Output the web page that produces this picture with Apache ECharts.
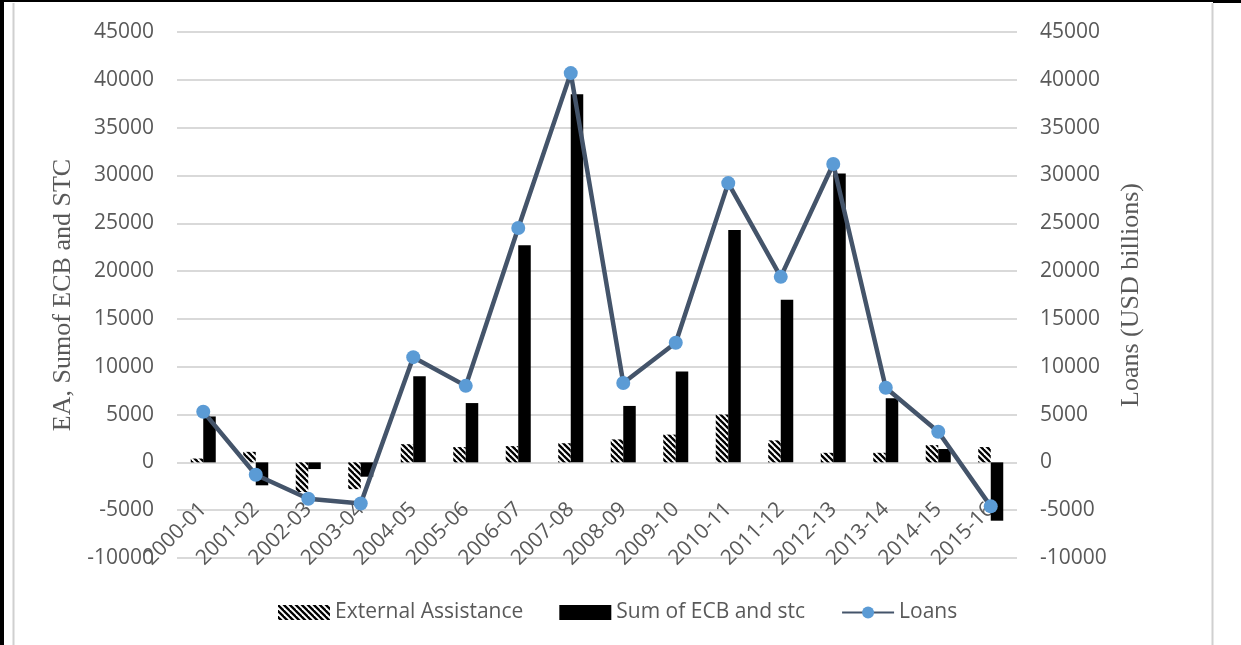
<!DOCTYPE html>
<html>
<head>
<meta charset="utf-8">
<script src="https://cdn.jsdelivr.net/npm/echarts@6/dist/echarts.min.js"></script>
<style>
  html, body { margin: 0; padding: 0; background: #fff; }
  #chart { width: 1241px; height: 645px; }
</style>
</head>
<body>
<div id="chart"></div>
<script>
// Fiscal years on the category axis
const years = ['2000-01', '2001-02', '2002-03', '2003-04', '2004-05', '2005-06', '2006-07', '2007-08',
               '2008-09', '2009-10', '2010-11', '2011-12', '2012-13', '2013-14', '2014-15', '2015-16'];

// External Assistance (left axis)
const externalAssistance = [400, 1100, -3100, -2800, 1900, 1600, 1700, 2000,
                            2400, 2900, 5000, 2300, 1000, 1000, 1800, 1600];

// Sum of ECB and short-term credit (left axis)
const ecbStc = [4800, -2400, -700, -1500, 9000, 6200, 22700, 38500,
                5900, 9500, 24300, 17000, 30200, 6700, 1400, -6100];

// Loans (right axis)
const loans = [5300, -1300, -3800, -4300, 11000, 8000, 24500, 40700,
               8300, 12500, 29200, 19400, 31200, 7800, 3200, -4600];

// Shared value-axis range
const axisMin = -10000;
const axisMax = 45000;
const axisStep = 5000;

// Diagonal black/white stripe fill for the External Assistance bars
function stripeCanvas() {
  const s = 6;
  const c = document.createElement('canvas');
  c.width = s; c.height = s;
  const g = c.getContext('2d');
  g.fillStyle = '#ffffff';
  g.fillRect(0, 0, s, s);
  g.strokeStyle = '#000000';
  g.lineWidth = 2.3;
  for (let k = -1; k <= 1; k++) {
    g.beginPath();
    g.moveTo(k * s - 1, -1);
    g.lineTo(k * s + s + 1, s + 1);
    g.stroke();
  }
  return c;
}
const stripes = { image: stripeCanvas(), repeat: 'repeat' };

const tickText = { color: '#595959', fontSize: 21, fontFamily: '"Open Sans", sans-serif' };
const titleText = { color: '#595959', fontSize: 26, fontFamily: '"Liberation Serif", "DejaVu Serif", serif' };
const plainNumber = v => String(v);

const chart = echarts.init(document.getElementById('chart'), null, { renderer: 'canvas' });

chart.setOption({
  animation: false,
  backgroundColor: '#ffffff',
  grid: { left: 177, right: 224, top: 32, height: 526, containLabel: false, outerBoundsMode: 'none' },
  legend: {
    left: 273,
    top: 597,
    itemWidth: 52,
    itemHeight: 15,
    itemGap: 36,
    textStyle: { color: '#595959', fontSize: 21, fontFamily: '"Open Sans", sans-serif' },
    data: [
      { name: 'External Assistance', icon: 'rect' },
      { name: 'Sum of ECB and stc', icon: 'rect' },
      { name: 'Loans' }
    ]
  },
  xAxis: {
    type: 'category',
    data: years,
    boundaryGap: true,
    // category labels sit just under the zero line (96px above the plot bottom)
    offset: -96,
    axisTick: { show: false },
    axisLine: { show: false, onZero: false },
    axisLabel: Object.assign({ rotate: 45, margin: 44, interval: 0 }, tickText),
    splitLine: { show: false }
  },
  yAxis: [
    {
      type: 'value',
      min: axisMin, max: axisMax, interval: axisStep,
      position: 'left',
      name: 'EA, Sumof ECB and STC',
      nameLocation: 'middle',
      nameRotate: 90,
      nameGap: 99,
      nameTextStyle: titleText,
      axisLine: { show: false },
      axisTick: { show: false },
      axisLabel: Object.assign({ margin: 23, formatter: plainNumber }, tickText),
      splitLine: { show: true, lineStyle: { color: '#d9d9d9', width: 2 } }
    },
    {
      type: 'value',
      min: axisMin, max: axisMax, interval: axisStep,
      position: 'right',
      name: 'Loans (USD billions)',
      nameLocation: 'middle',
      nameRotate: 90,
      nameGap: 100,
      nameTextStyle: titleText,
      axisLine: { show: false },
      axisTick: { show: false },
      axisLabel: Object.assign({ margin: 23, formatter: plainNumber }, tickText),
      splitLine: { show: false }
    }
  ],
  series: [
    {
      name: 'External Assistance',
      type: 'bar',
      data: externalAssistance,
      barWidth: 12.5,
      barGap: '0%',
      itemStyle: { color: stripes },
      z: 2
    },
    {
      name: 'Sum of ECB and stc',
      type: 'bar',
      data: ecbStc,
      barWidth: 12.5,
      barGap: '0%',
      itemStyle: { color: '#000000' },
      z: 2
    },
    {
      name: 'Loans',
      type: 'line',
      yAxisIndex: 1,
      data: loans,
      symbol: 'circle',
      symbolSize: 14,
      lineStyle: { color: '#44546A', width: 4.5 },
      itemStyle: { color: '#5B9BD5' },
      z: 5
    }
  ],
  graphic: [
    { type: 'rect', shape: { x: 0, y: 0, width: 4, height: 645 }, style: { fill: '#000' }, silent: true },
    { type: 'line', shape: { x1: 0, y1: 1, x2: 1241, y2: 1 }, style: { stroke: '#000', lineWidth: 2 }, silent: true },
    { type: 'line', shape: { x1: 1213, y1: 1.5, x2: 1241, y2: 1.5 }, style: { stroke: '#000', lineWidth: 3 }, silent: true },
    { type: 'line', shape: { x1: 13.5, y1: 3, x2: 13.5, y2: 645 }, style: { stroke: '#d0d0d0', lineWidth: 2 }, silent: true },
    { type: 'line', shape: { x1: 1212.5, y1: 3, x2: 1212.5, y2: 645 }, style: { stroke: '#d0d0d0', lineWidth: 2 }, silent: true }
  ]
});
</script>
</body>
</html>
